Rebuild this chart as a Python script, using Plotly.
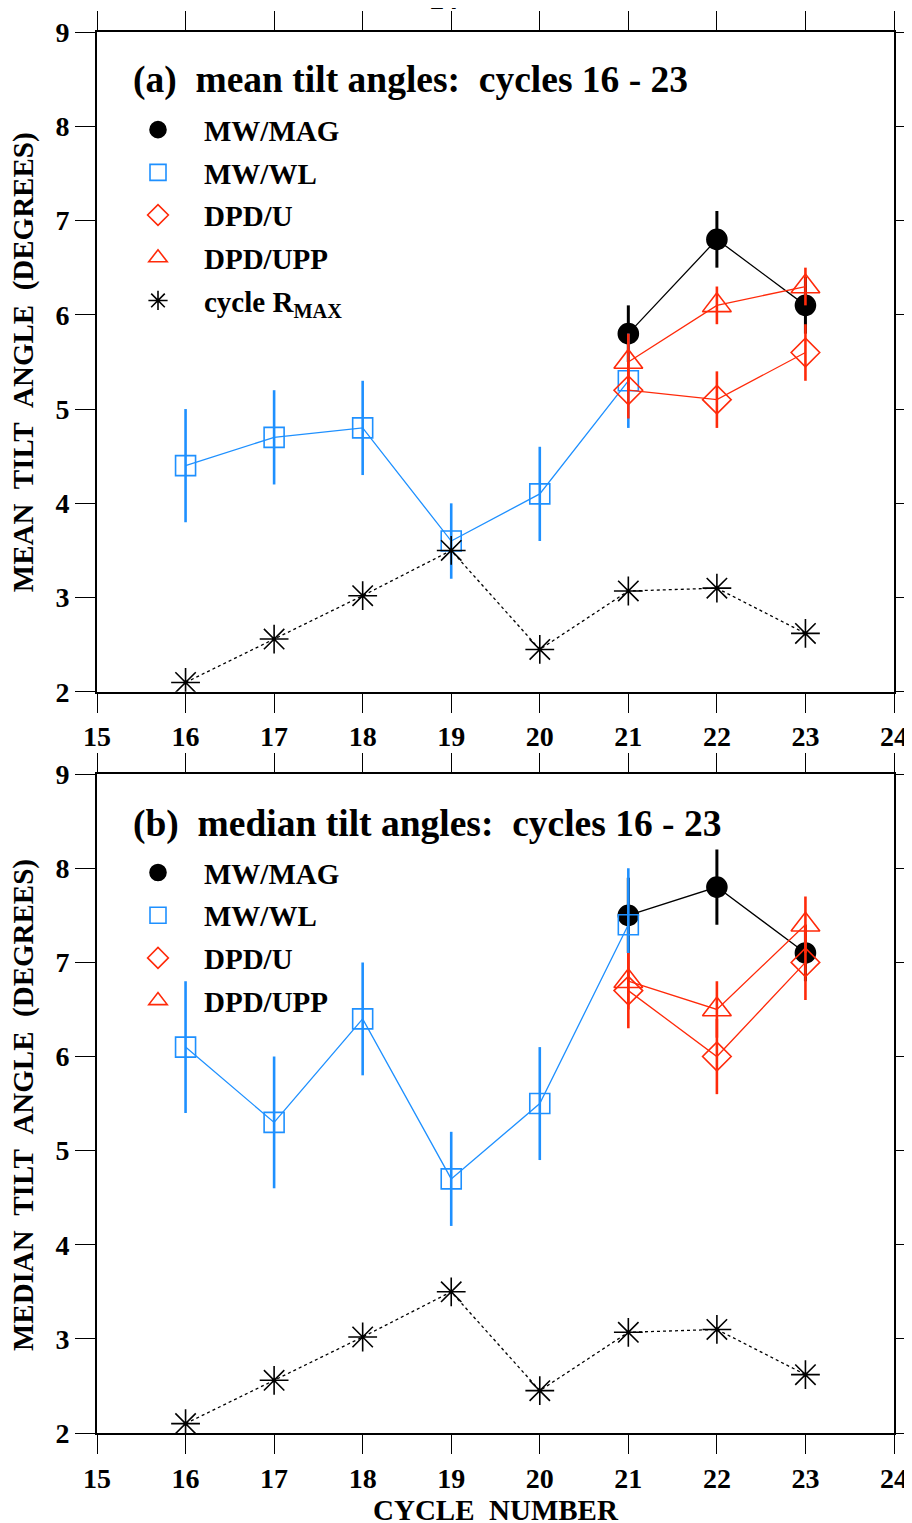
import plotly.graph_objects as go

# ---------------- data ----------------
cycles_wl = [16, 17, 18, 19, 20, 21]
cycles_dpd = [21, 22, 23]
cycles_all = [16, 17, 18, 19, 20, 21, 22, 23]

# (a) mean tilt angles
mean_mag = [5.8, 6.8, 6.1]
mean_mag_err = [0.3, 0.3, 0.3]
mean_wl = [4.4, 4.7, 4.8, 3.6, 4.1, 5.3]
mean_wl_err = [0.6, 0.5, 0.5, 0.4, 0.5, 0.5]
mean_u = [5.2, 5.1, 5.6]
mean_u_err = [0.3, 0.3, 0.3]
mean_upp = [5.5, 6.1, 6.3]
mean_upp_err = [0.3, 0.2, 0.2]

# (b) median tilt angles
med_mag = [7.5, 7.8, 7.1]
med_mag_err = [0.4, 0.4, 0.3]
med_wl = [6.1, 5.3, 6.4, 4.7, 5.5, 7.4]
med_wl_err = [0.7, 0.7, 0.6, 0.5, 0.6, 0.6]
med_u = [6.7, 6.0, 7.0]
med_u_err = [0.4, 0.4, 0.4]
med_upp = [6.8, 6.5, 7.4]
med_upp_err = [0.3, 0.3, 0.3]

# cycle amplitude (scaled)
rmax = [2.1, 2.56, 3.02, 3.5, 2.45, 3.07, 3.1, 2.62]

x_ticks = list(range(15, 25))
y_ticks = list(range(2, 10))

# ---------------- style ----------------
BLUE = "#1e90ff"
RED = "#ff2a0a"
BLACK = "#000000"
FONT = "Liberation Serif"

fig = go.Figure()


def add_series(x, y, err, color, symbol, size, name, xa, ya, legend, showlegend,
               dash="solid", lw=1.3, ew=2.6):
    # connecting line
    fig.add_trace(go.Scatter(
        x=x, y=y, mode="lines", xaxis=xa, yaxis=ya,
        line=dict(color=color, width=lw, dash=dash),
        showlegend=False, hoverinfo="skip"))
    # markers + error bars
    marker = dict(symbol=symbol, size=size, color=color,
                  line=dict(color=color, width=1.6))
    kw = {}
    if err is not None:
        kw["error_y"] = dict(type="data", array=err, visible=True,
                             color=color, thickness=ew, width=0)
    fig.add_trace(go.Scatter(
        x=x, y=y, mode="markers", xaxis=xa, yaxis=ya, marker=marker,
        name=name, legend=legend, showlegend=showlegend,
        legendgroup=name + legend, **kw))


for xa, ya, legend, mag, mag_e, wl, wl_e, u, u_e, upp, upp_e, show_r in [
    ("x", "y", "legend", mean_mag, mean_mag_err, mean_wl, mean_wl_err,
     mean_u, mean_u_err, mean_upp, mean_upp_err, True),
    ("x2", "y2", "legend2", med_mag, med_mag_err, med_wl, med_wl_err,
     med_u, med_u_err, med_upp, med_upp_err, False),
]:
    add_series(cycles_dpd, mag, mag_e, BLACK, "circle", 20, "MW/MAG", xa, ya,
               legend, True, ew=3)
    add_series(cycles_wl, wl, wl_e, BLUE, "square-open", 20, "MW/WL", xa, ya,
               legend, True)
    add_series(cycles_dpd, u, u_e, RED, "diamond-open", 22, "DPD/U", xa, ya,
               legend, True)
    add_series(cycles_dpd, upp, upp_e, RED, "triangle-up-open", 25, "DPD/UPP",
               xa, ya, legend, True)
    add_series(cycles_all, rmax, None, BLACK, "asterisk-open", 24,
               "cycle R<sub>MAX</sub>", xa, ya, legend, show_r,
               dash="dot", lw=1.3)

# ---------------- layout ----------------
# page offset (body margin) of the rendered html
OFF = 8
W, H = 912, 1523 - OFF
L = 97 - OFF
T = 31.7 - OFF
R = W - (894 - OFF)
B = H - (1433 - OFF)
plot_w = W - L - R
plot_h = H - T - B
dom_a = [(1433 - 691.7) / plot_h, 1.0]
dom_b = [0.0, (1433 - 774) / plot_h]


def px_x(p):
    """page pixel x -> paper fraction"""
    return (p - OFF - L) / plot_w


def px_y(p):
    """page pixel y -> paper fraction"""
    return 1 - (p - OFF - T) / plot_h


tickfont = dict(family=FONT, size=28, color=BLACK, weight="bold")
common_x = dict(range=[15, 24], tickvals=x_ticks, ticks="outside", ticklen=19,
                tickwidth=1.3, tickcolor=BLACK, showline=True, linewidth=1.8,
                linecolor=BLACK, mirror="allticks", showgrid=False,
                zeroline=False, tickfont=tickfont, automargin=False)
common_y = dict(range=[2, 9], tickvals=y_ticks, ticks="outside", ticklen=20,
                tickwidth=1.3, tickcolor=BLACK, showline=True, linewidth=1.8,
                linecolor=BLACK, mirror="allticks", showgrid=False,
                zeroline=False, tickfont=tickfont, automargin=False)

titlefont = dict(family=FONT, size=29, color=BLACK, weight="bold")
sp = "\u00a0\u00a0"

legend_common = dict(
    font=dict(family=FONT, size=29, color=BLACK, weight="bold"),
    bgcolor="rgba(0,0,0,0)", borderwidth=0, itemwidth=82,
    traceorder="grouped", tracegroupgap=2, itemsizing="trace",
    xanchor="left", yanchor="top", xref="paper", yref="paper")

fig.update_layout(
    width=W, height=H,
    margin=dict(l=L, r=R, t=T, b=B, autoexpand=False),
    paper_bgcolor="white", plot_bgcolor="white",
    xaxis=dict(domain=[0, 1], anchor="y", **common_x),
    yaxis=dict(domain=dom_a, anchor="x", **common_y),
    xaxis2=dict(domain=[0, 1], anchor="y2", **common_x),
    yaxis2=dict(domain=dom_b, anchor="x2", **common_y),
    legend=dict(x=px_x(112), y=px_y(104), **legend_common),
    legend2=dict(x=px_x(112), y=px_y(847), **legend_common),
    showlegend=True,
)

# axis titles
fig.add_annotation(
    text=f"MEAN{sp}TILT{sp}ANGLE{sp}(DEGREES)", xref="paper", yref="paper",
    x=px_x(23), y=px_y(362), textangle=-90, xanchor="center",
    yanchor="middle", showarrow=False, font=titlefont)
fig.add_annotation(
    text=f"MEDIAN{sp}TILT{sp}ANGLE{sp}(DEGREES)", xref="paper", yref="paper",
    x=px_x(23), y=px_y(1105), textangle=-90, xanchor="center",
    yanchor="middle", showarrow=False, font=titlefont)
fig.add_annotation(
    text=f"CYCLE{sp}NUMBER", xref="paper", yref="paper",
    x=px_x(496), y=px_y(1510), xanchor="center", yanchor="middle",
    showarrow=False, font=titlefont)

# panel titles
fig.add_annotation(
    text=f"(a){sp}mean tilt angles:{sp}cycles 16 - 23",
    xref="paper", yref="paper", x=px_x(131), y=px_y(80),
    xanchor="left", yanchor="middle", showarrow=False,
    font=dict(family=FONT, size=37.5, color=BLACK, weight="bold"))
fig.add_annotation(
    text=f"(b){sp}median tilt angles:{sp}cycles 16 - 23",
    xref="paper", yref="paper", x=px_x(131), y=px_y(824),
    xanchor="left", yanchor="middle", showarrow=False,
    font=dict(family=FONT, size=37.5, color=BLACK, weight="bold"))
# partially cut page number at the very top
fig.add_annotation(
    text="24", xref="paper", yref="paper", x=px_x(444),
    y=px_y(17), xanchor="center", yanchor="bottom",
    showarrow=False, font=dict(family=FONT, size=28, color=BLACK, weight="bold"))

fig.write_html("out.html")
